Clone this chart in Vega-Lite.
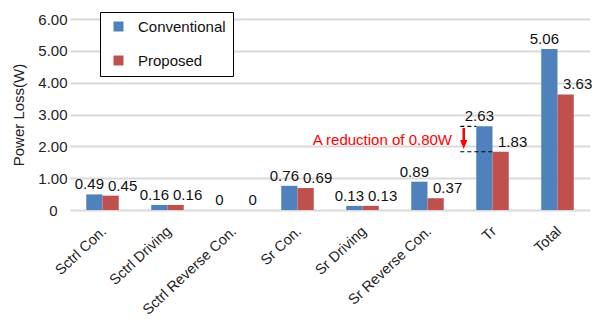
{
  "$schema": "https://vega.github.io/schema/vega-lite/v6.json",
  "width": 520,
  "height": 191,
  "autosize": "none",
  "padding": {"left": 70, "top": 19, "right": 9, "bottom": 113},
  "background": "white",
  "config": {
    "view": {"stroke": null},
    "font": "Liberation Sans",
    "legend": {
      "orient": "none",
      "legendX": 30,
      "legendY": -7,
      "strokeColor": "black",
      "fillColor": "white",
      "padding": 7,
      "rowPadding": 18,
      "symbolOffset": 4,
      "symbolType": "square",
      "symbolSize": 100,
      "symbolStrokeWidth": 0,
      "labelFontSize": 15,
      "labelOffset": 12,
      "labelColor": "#111",
      "title": null
    }
  },
  "data": {
    "values": [
      {"category": "Sctrl Con.", "series": "Conventional", "value": 0.49},
      {"category": "Sctrl Con.", "series": "Proposed", "value": 0.45},
      {"category": "Sctrl Driving", "series": "Conventional", "value": 0.16},
      {"category": "Sctrl Driving", "series": "Proposed", "value": 0.16},
      {"category": "Sctrl Reverse Con.", "series": "Conventional", "value": 0},
      {"category": "Sctrl Reverse Con.", "series": "Proposed", "value": 0},
      {"category": "Sr Con.", "series": "Conventional", "value": 0.76},
      {"category": "Sr Con.", "series": "Proposed", "value": 0.69},
      {"category": "Sr Driving", "series": "Conventional", "value": 0.13},
      {"category": "Sr Driving", "series": "Proposed", "value": 0.13},
      {"category": "Sr Reverse Con.", "series": "Conventional", "value": 0.89},
      {"category": "Sr Reverse Con.", "series": "Proposed", "value": 0.37},
      {"category": "Tr", "series": "Conventional", "value": 2.63},
      {"category": "Tr", "series": "Proposed", "value": 1.83},
      {"category": "Total", "series": "Conventional", "value": 5.06},
      {"category": "Total", "series": "Proposed", "value": 3.63}
    ]
  },
  "encoding": {
    "x": {
      "field": "category",
      "type": "nominal",
      "scale": {
        "domain": ["Sctrl Con.", "Sctrl Driving", "Sctrl Reverse Con.", "Sr Con.", "Sr Driving", "Sr Reverse Con.", "Tr", "Total"],
        "paddingInner": 0.5,
        "paddingOuter": 0.25
      },
      "axis": {
        "title": null,
        "labelAngle": -43,
        "labelBaseline": "middle",
        "labelAlign": "right",
        "labelFontSize": 14.5,
        "labelColor": "#222",
        "labelPadding": 19,
        "labelOffset": 2,
        "domain": false,
        "ticks": false,
        "grid": false
      }
    },
    "y": {
      "field": "value",
      "type": "quantitative",
      "scale": {"domain": [0, 6], "nice": false},
      "axis": {
        "title": "Power Loss(W)",
        "titleFontSize": 15,
        "titleFontWeight": "normal",
        "titleColor": "#222",
        "titleAngle": -90,
        "titleX": -52,
        "titleY": 95.5,
        "titleAlign": "center",
        "titleBaseline": "middle",
        "values": [0, 1, 2, 3, 4, 5, 6],
        "labelExpr": "datum.value == 0 ? '0' : format(datum.value, '.2f')",
        "labelFontSize": 15,
        "labelColor": "#222",
        "labelPadding": {"condition": {"test": "datum.value == 0", "value": 13}, "value": 3},
        "domain": false,
        "ticks": false,
        "grid": true,
        "gridColor": "#d9d9d9",
        "gridWidth": 2
      }
    }
  },
  "layer": [
    {
      "mark": {"type": "bar"},
      "encoding": {
        "xOffset": {"field": "series", "type": "nominal"},
        "color": {
          "field": "series",
          "type": "nominal",
          "scale": {"domain": ["Conventional", "Proposed"], "range": ["#4F81BD", "#C0504D"]},
          "legend": {}
        }
      }
    },
    {
      "transform": [{"filter": "datum.series == 'Conventional'"}],
      "mark": {"type": "text", "baseline": "bottom", "dy": -2, "dx": -5, "fontSize": 15, "color": "#111"},
      "encoding": {
        "xOffset": {"field": "series", "type": "nominal", "scale": {"domain": ["Conventional", "Proposed"]}},
        "text": {"field": "value", "type": "quantitative"}
      }
    },
    {
      "transform": [{"filter": "datum.series == 'Proposed'"}],
      "mark": {"type": "text", "baseline": "bottom", "dy": -2, "dx": 12, "fontSize": 15, "color": "#111"},
      "encoding": {
        "xOffset": {"field": "series", "type": "nominal", "scale": {"domain": ["Conventional", "Proposed"]}},
        "text": {"field": "value", "type": "quantitative"}
      }
    },
    {
      "data": {"values": [{"category": "Tr", "value": 2.2, "note": "A reduction of 0.80W"}]},
      "mark": {"type": "text", "align": "right", "baseline": "middle", "dx": -8, "fontSize": 15, "color": "#FF0000"},
      "encoding": {
        "x": {"field": "category", "type": "nominal", "bandPosition": -0.5},
        "text": {"field": "note"}
      }
    },
    {
      "data": {"values": [{"category": "Tr", "value": 1.83}]},
      "mark": {"type": "rule", "strokeDash": [4, 3], "strokeWidth": 1.2, "color": "black"},
      "encoding": {
        "x": {"field": "category", "type": "nominal", "bandPosition": -0.49},
        "x2": {"field": "category", "bandPosition": 0.52}
      }
    },
    {
      "data": {"values": [{"category": "Tr", "value": 2.63}]},
      "mark": {"type": "rule", "strokeDash": [4, 3], "strokeWidth": 1.2, "color": "black"},
      "encoding": {
        "x": {"field": "category", "type": "nominal", "bandPosition": -0.49},
        "x2": {"field": "category", "bandPosition": 0}
      }
    },
    {
      "data": {"values": [{"category": "Tr", "value": 2.58, "end": 2.12}]},
      "mark": {"type": "rule", "strokeWidth": 2.5, "color": "#FF0000"},
      "encoding": {
        "x": {"field": "category", "type": "nominal", "bandPosition": -0.385},
        "y2": {"field": "end"}
      }
    },
    {
      "data": {"values": [{"category": "Tr", "value": 2.06}]},
      "mark": {"type": "point", "shape": "M-0.8,-1L0.8,-1L0,1Z", "filled": true, "size": 81, "color": "#FF0000", "opacity": 1, "strokeWidth": 0},
      "encoding": {
        "x": {"field": "category", "type": "nominal", "bandPosition": -0.385}
      }
    }
  ]
}
